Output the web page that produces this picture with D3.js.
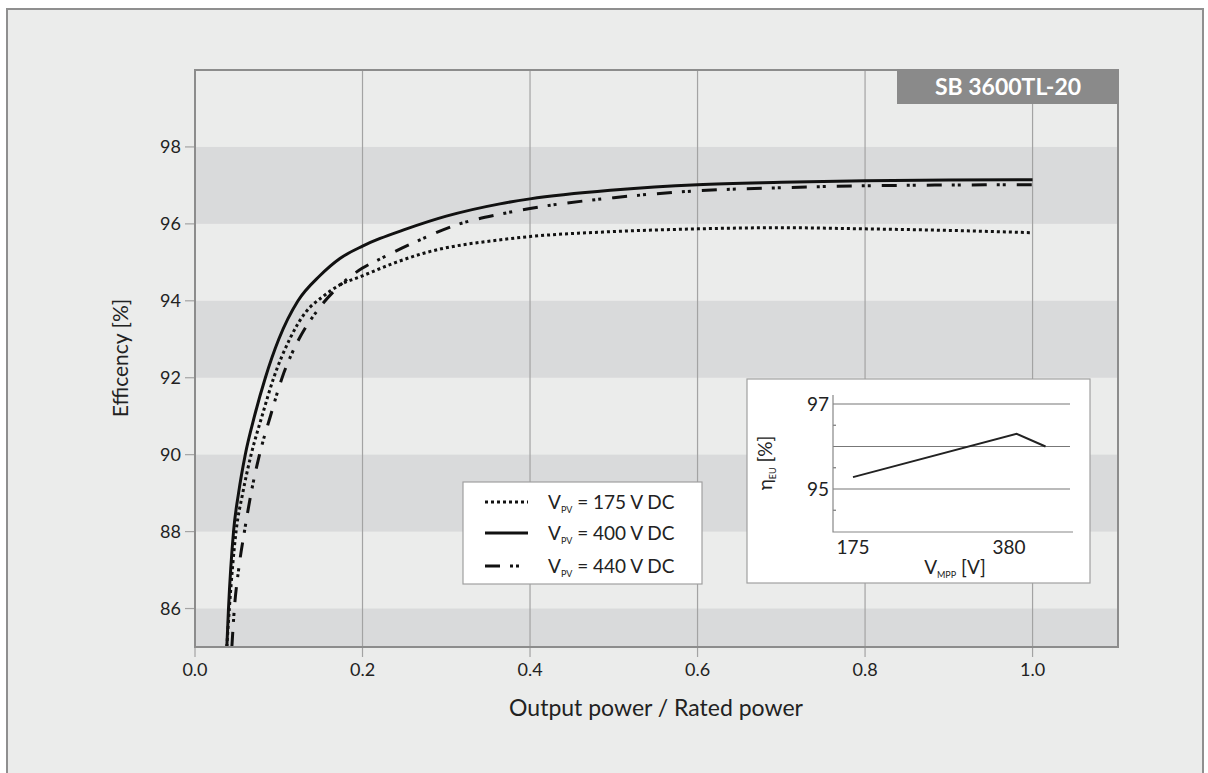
<!DOCTYPE html>
<html>
<head>
<meta charset="utf-8">
<script src="https://cdn.jsdelivr.net/npm/d3@7"></script>
<style>
  body { margin: 0; background: #fff; }
  text { font-family: 'Lato', 'Noto Sans', sans-serif; fill: #222; }
</style>
</head>
<body>
<div id="chart"></div>
<script>
// main curves: output power / rated power vs efficiency
var power175 = [0.038, 0.041, 0.049, 0.057, 0.067, 0.08, 0.094, 0.113, 0.132, 0.152, 0.172, 0.2, 0.24, 0.272, 0.37, 0.4, 0.5, 0.6, 0.7, 0.8, 0.9, 1.0];
var eff175 = [85, 86, 88, 89, 90, 91, 92, 93, 93.7, 94.1, 94.4, 94.65, 95.0, 95.23, 95.6, 95.67, 95.8, 95.87, 95.9, 95.87, 95.83, 95.77];

var power400 = [0.038, 0.04, 0.046, 0.052, 0.06, 0.071, 0.084, 0.1, 0.123, 0.149, 0.173, 0.2, 0.221, 0.25, 0.3, 0.364, 0.4, 0.5, 0.6, 0.7, 0.8, 0.9, 1.0];
var eff400 = [85, 86, 88, 89, 90, 91, 92, 93, 94, 94.65, 95.1, 95.42, 95.62, 95.85, 96.2, 96.52, 96.65, 96.88, 97.02, 97.08, 97.12, 97.14, 97.15];

var power440 = [0.044, 0.047, 0.052, 0.059, 0.067, 0.077, 0.09, 0.104, 0.124, 0.148, 0.173, 0.2, 0.222, 0.26, 0.313, 0.364, 0.4, 0.5, 0.6, 0.7, 0.8, 0.9, 1.0];
var eff440 = [85, 86, 87, 88, 89, 90, 91, 92, 93, 93.8, 94.4, 94.85, 95.1, 95.5, 95.98, 96.25, 96.4, 96.68, 96.86, 96.94, 96.99, 97.01, 97.02];

var seriesLabels = ['175', '400', '440'];
var xTicks = [0, 0.2, 0.4, 0.6, 0.8, 1.0];
var yTicks = [86, 88, 90, 92, 94, 96, 98];
var bandRanges = [[85, 86], [88, 90], [92, 94], [96, 98]];

// inset: EU efficiency vs MPP voltage
var insetVoltage = [175, 390, 428];
var insetEff = [95.28, 96.3, 96.0];
var insetXTicks = [175, 380];
var insetYTicks = [95, 96, 97];
var insetYLabels = [95, 97];
var insetMinor = [94.5, 95.5, 96.5];

var svg = d3.select('#chart').append('svg')
  .attr('width', 1208)
  .attr('height', 773);

svg.append('rect')
  .attr('x', 7).attr('y', 9)
  .attr('width', 1196).attr('height', 780)
  .attr('fill', '#ebeceb')
  .attr('stroke', '#8f8f8f')
  .attr('stroke-width', 2);

var plot = { left: 195, right: 1118, top: 70, bottom: 647 };

var x = d3.scaleLinear().domain([0, 1.102]).range([plot.left, plot.right]);
var y = d3.scaleLinear().domain([85, 100]).range([plot.bottom, plot.top]);

// gray bands
svg.selectAll('.band')
  .data(bandRanges)
  .enter()
  .append('rect')
  .attr('class', 'band')
  .attr('x', plot.left)
  .attr('width', plot.right - plot.left)
  .attr('y', function (d) { return y(d[1]); })
  .attr('height', function (d) { return y(d[0]) - y(d[1]); })
  .attr('fill', '#d9dadb');

// vertical grid + x ticks
svg.selectAll('.vgrid')
  .data(xTicks)
  .enter()
  .append('line')
  .attr('x1', function (d) { return x(d); })
  .attr('x2', function (d) { return x(d); })
  .attr('y1', plot.top)
  .attr('y2', plot.bottom + 10)
  .attr('stroke', '#a3a3a3')
  .attr('stroke-width', 1.2);

svg.selectAll('.xlab')
  .data(xTicks)
  .enter()
  .append('text')
  .attr('x', function (d) { return x(d); })
  .attr('y', 676)
  .attr('text-anchor', 'middle')
  .style('font-size', '18px')
  .text(function (d) { return d.toFixed(1); });

// y ticks
svg.selectAll('.ytick')
  .data(yTicks)
  .enter()
  .append('line')
  .attr('x1', plot.left - 10)
  .attr('x2', plot.left)
  .attr('y1', function (d) { return y(d); })
  .attr('y2', function (d) { return y(d); })
  .attr('stroke', '#a3a3a3')
  .attr('stroke-width', 1.2);

svg.selectAll('.ylab')
  .data(yTicks)
  .enter()
  .append('text')
  .attr('x', 181)
  .attr('y', function (d) { return y(d) + 6; })
  .attr('text-anchor', 'end')
  .style('font-size', '18px')
  .text(function (d) { return d; });

// plot frame
svg.append('rect')
  .attr('x', plot.left).attr('y', plot.top)
  .attr('width', plot.right - plot.left)
  .attr('height', plot.bottom - plot.top)
  .attr('fill', 'none')
  .attr('stroke', '#8c8c8c')
  .attr('stroke-width', 2);

// curves
svg.append('clipPath').attr('id', 'clip')
  .append('rect')
  .attr('x', plot.left).attr('y', plot.top)
  .attr('width', plot.right - plot.left)
  .attr('height', plot.bottom - plot.top - 1);

var line = d3.line()
  .curve(d3.curveMonotoneX)
  .x(function (d) { return x(d[0]); })
  .y(function (d) { return y(d[1]); });

var dashes = ['3,3', null, '15,10,3,3,3,11'];
var curves = [
  d3.zip(power175, eff175),
  d3.zip(power400, eff400),
  d3.zip(power440, eff440)
];

svg.append('g').attr('clip-path', 'url(#clip)')
  .selectAll('path')
  .data(curves)
  .enter()
  .append('path')
  .attr('d', line)
  .attr('fill', 'none')
  .attr('stroke', '#111')
  .attr('stroke-width', 3)
  .attr('stroke-dasharray', function (d, i) { return dashes[i]; });

// title box
svg.append('rect')
  .attr('x', 897).attr('y', 69)
  .attr('width', 222).attr('height', 35)
  .attr('fill', '#8a8a8a');
svg.append('text')
  .attr('x', 1008).attr('y', 95)
  .attr('text-anchor', 'middle')
  .style('font-size', '23px')
  .style('font-weight', 'bold')
  .style('fill', '#fff')
  .text('SB 3600TL-20');

// axis titles
svg.append('text')
  .attr('transform', 'translate(128,358) rotate(-90)')
  .attr('text-anchor', 'middle')
  .style('font-size', '21px')
  .text('Efficency [%]');

svg.append('text')
  .attr('x', 656).attr('y', 716)
  .attr('text-anchor', 'middle')
  .style('font-size', '23px')
  .text('Output power / Rated power');

// legend
var legend = svg.append('g');
legend.append('rect')
  .attr('x', 463).attr('y', 482)
  .attr('width', 239).attr('height', 102)
  .attr('fill', '#fff')
  .attr('stroke', '#a0a0a0')
  .attr('stroke-width', 1.2);

var rows = legend.selectAll('.row')
  .data(seriesLabels)
  .enter()
  .append('g')
  .attr('transform', function (d, i) { return 'translate(0,' + [502, 533, 566][i] + ')'; });

rows.append('line')
  .attr('x1', 485).attr('x2', 528)
  .attr('y1', 0).attr('y2', 0)
  .attr('stroke', '#111')
  .attr('stroke-width', 3)
  .attr('stroke-dasharray', function (d, i) { return dashes[i]; });

var lt = rows.append('text')
  .attr('x', 548).attr('y', 7)
  .style('font-size', '19px');
lt.append('tspan').text('V');
lt.append('tspan').attr('dy', 4).style('font-size', '9px').text('PV');
lt.append('tspan').attr('dy', -4).text(function (d) { return ' = ' + d + ' V DC'; });

// inset
var inset = svg.append('g');
inset.append('rect')
  .attr('x', 747).attr('y', 379)
  .attr('width', 343).attr('height', 204)
  .attr('fill', '#fff')
  .attr('stroke', '#a0a0a0')
  .attr('stroke-width', 1.2);

var ix = d3.scaleLinear().domain([175, 380]).range([853, 1009]);
var iy = d3.scaleLinear().domain([95, 97]).range([489, 404]);

inset.selectAll('.igrid')
  .data(insetYTicks)
  .enter()
  .append('line')
  .attr('x1', 833).attr('x2', 1070)
  .attr('y1', function (d) { return iy(d); })
  .attr('y2', function (d) { return iy(d); })
  .attr('stroke', '#777')
  .attr('stroke-width', 1.2);

inset.selectAll('.iminor')
  .data(insetMinor)
  .enter()
  .append('line')
  .attr('x1', 833).attr('x2', 836)
  .attr('y1', function (d) { return iy(d); })
  .attr('y2', function (d) { return iy(d); })
  .attr('stroke', '#777')
  .attr('stroke-width', 1.2);

inset.append('path')
  .attr('d', 'M833,395V532H1073')
  .attr('fill', 'none')
  .attr('stroke', '#888')
  .attr('stroke-width', 1.2);

inset.selectAll('.iylab')
  .data(insetYLabels)
  .enter()
  .append('text')
  .attr('x', 829)
  .attr('y', function (d) { return iy(d) + 7; })
  .attr('text-anchor', 'end')
  .style('font-size', '19px')
  .text(function (d) { return d; });

inset.selectAll('.ixlab')
  .data(insetXTicks)
  .enter()
  .append('text')
  .attr('x', function (d) { return ix(d); })
  .attr('y', 554)
  .attr('text-anchor', 'middle')
  .style('font-size', '19px')
  .text(function (d) { return d; });

inset.append('path')
  .datum(d3.zip(insetVoltage, insetEff))
  .attr('d', d3.line()
    .x(function (d) { return ix(d[0]); })
    .y(function (d) { return iy(d[1]); }))
  .attr('fill', 'none')
  .attr('stroke', '#222')
  .attr('stroke-width', 2);

var ixl = inset.append('text')
  .attr('x', 955).attr('y', 574)
  .attr('text-anchor', 'middle')
  .style('font-size', '19px');
ixl.append('tspan').text('V');
ixl.append('tspan').attr('dy', 4).style('font-size', '9px').text('MPP');
ixl.append('tspan').attr('dy', -4).text(' [V]');

var iyl = inset.append('text')
  .attr('transform', 'translate(772,463) rotate(-90)')
  .attr('text-anchor', 'middle')
  .style('font-size', '19px');
iyl.append('tspan').text('η');
iyl.append('tspan').attr('dy', 4).style('font-size', '9px').text('EU');
iyl.append('tspan').attr('dy', -4).text(' [%]');
</script>
</body>
</html>
